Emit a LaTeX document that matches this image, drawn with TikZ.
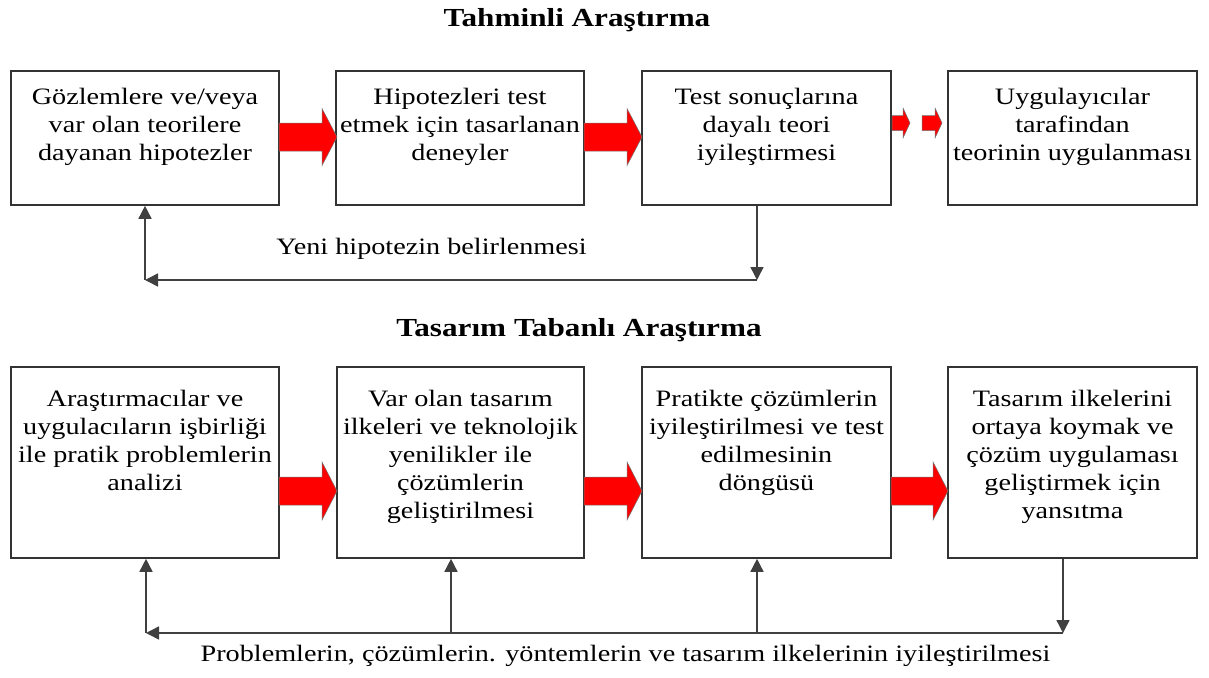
\documentclass[tikz,border=0pt]{standalone}
\usepackage{fontspec}
\setmainfont{Liberation Serif}[FakeStretch=1.2]
\usetikzlibrary{arrows.meta,calc}
\newcommand{\fatarrow}[6]{%
  \filldraw[redarrow] (#1,#3-#4) -- (#2-#6,#3-#4) -- (#2-#6,#3-#5) -- (#2,#3)
    -- (#2-#6,#3+#5) -- (#2-#6,#3+#4) -- (#1,#3+#4) -- cycle;}
\begin{document}
\begin{tikzpicture}[x=1pt,y=-1pt,
  box/.style={draw=black!80, line width=1.6pt, inner sep=0pt},
  txt/.style={inner sep=0pt, align=center, anchor=north, font=\fontsize{23.5}{28}\selectfont},
  lbl/.style={inner sep=0pt, anchor=base, font=\fontsize{23.5}{28}\selectfont},
  ttl/.style={inner sep=0pt, anchor=base, font=\bfseries\fontsize{26}{30}\selectfont},
  fb/.style={draw=black!75, line width=1.5pt, -{Triangle[length=13pt,width=13pt]}},
  redarrow/.style={fill=red, draw=black!55, line width=0.5pt, line join=miter}
]
\fill[white] (0,0) rectangle (1209,677);
\useasboundingbox (0,0) rectangle (1209,677);

% titles
\node[ttl] (title1) at (577,27) {Tahminli Araştırma};
\node[ttl] (title2) at (579,336) {Tasarım Tabanlı Araştırma};

% top row
\node[box, minimum width=268pt, minimum height=134pt] (b1) at (145,138) {};
\node[box, minimum width=248pt, minimum height=134pt] (b2) at (460,138) {};
\node[box, minimum width=249pt, minimum height=134pt] (b3) at (766.5,138) {};
\node[box, minimum width=249pt, minimum height=134pt] (b4) at (1072.5,138) {};

\node[txt] (t1) at ($(b1.north)+(0,18)$) {Gözlemlere ve/veya\\var olan teorilere\\dayanan hipotezler};
\node[txt] (t2) at ($(b2.north)+(0,18)$) {Hipotezleri test\\etmek için tasarlanan\\deneyler};
\node[txt] (t3) at ($(b3.north)+(0,18)$) {Test sonuçlarına\\dayalı teori\\iyileştirmesi};
\node[txt] (t4) at ($(b4.north)+(0,18)$) {Uygulayıcılar\\tarafindan\\teorinin uygulanması};

% bottom row
\node[box, minimum width=268pt, minimum height=191pt] (b5) at (145,462.5) {};
\node[box, minimum width=247pt, minimum height=191pt] (b6) at (460.5,462.5) {};
\node[box, minimum width=249pt, minimum height=191pt] (b7) at (766.5,462.5) {};
\node[box, minimum width=249pt, minimum height=191pt] (b8) at (1072.5,462.5) {};

\node[txt] (t5) at ($(b5.north)+(0,24)$) {Araştırmacılar ve\\uygulacıların işbirliği\\ile pratik problemlerin\\analizi};
\node[txt] (t6) at ($(b6.north)+(0,24)$) {Var olan tasarım\\ilkeleri ve teknolojik\\yenilikler ile\\çözümlerin\\geliştirilmesi};
\node[txt] (t7) at ($(b7.north)+(0,24)$) {Pratikte çözümlerin\\iyileştirilmesi ve test\\edilmesinin\\döngüsü};
\node[txt] (t8) at ($(b8.north)+(0,24)$) {Tasarım ilkelerini\\ortaya koymak ve\\çözüm uygulaması\\geliştirmek için\\yansıtma};

% red arrows
\fatarrow{279}{337}{137}{14}{28.5}{15}
\fatarrow{584}{642}{137}{14}{28.5}{15}
\fatarrow{892}{910}{123}{7.5}{15}{7}
\fatarrow{922}{942}{123}{7.5}{15}{7}
\fatarrow{279}{337}{491}{14}{29}{15}
\fatarrow{584}{642}{491}{14}{29}{15}
\fatarrow{891}{948}{491}{14}{29}{15}

% top feedback
\coordinate (k1) at (757,280);
\coordinate (k2) at (145,280);
\draw[fb] ($(b3.south)+(-9.5,0)$) -- (k1);
\draw[fb] (k1) -- (k2);
\draw[fb] (k2) -- (b1.south);
\node[lbl] (l1) at (431.5,254) {Yeni hipotezin belirlenmesi};

% bottom feedback
\coordinate (m8) at (1063,633);
\coordinate (m5) at (146,633);
\coordinate (m6) at (451,633);
\coordinate (m7) at (757,633);
\draw[fb] ($(b8.south)+(-9.5,0)$) -- (m8);
\draw[fb] (m8) -- (m5);
\draw[fb] (m5) -- (m5 |- b5.south);
\draw[fb] (m6) -- (m6 |- b6.south);
\draw[fb] (m7) -- (m7 |- b7.south);
\node[lbl] (l2) at (625.5,661) {Problemlerin, çözümlerin. yöntemlerin ve tasarım ilkelerinin iyileştirilmesi};
\end{tikzpicture}
\end{document}
